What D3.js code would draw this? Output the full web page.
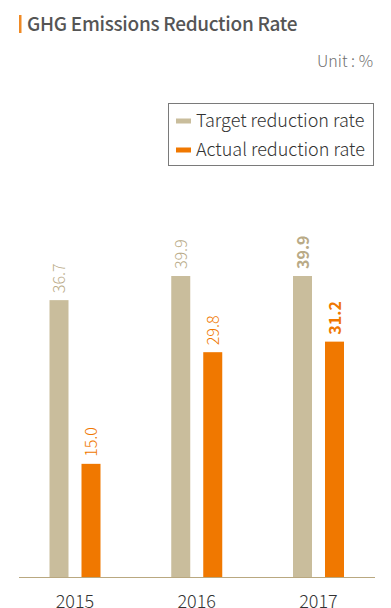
<!DOCTYPE html>
<html>
<head>
<meta charset="utf-8">
<script src="https://cdn.jsdelivr.net/npm/d3@7"></script>
<style>
  html, body { margin: 0; padding: 0; background: #fff; }
  svg { display: block; font-family: "Noto Sans CJK KR", "Noto Sans", sans-serif; }
</style>
</head>
<body>
<svg id="chart" width="391" height="608"></svg>
<script>
// GHG emissions reduction rate, target vs. actual, in percent
const years = ["2015", "2016", "2017"];
const targetRates = [36.7, 39.9, 39.9];
const actualRates = [15.0, 29.8, 31.2];
const seriesNames = ["Target reduction rate", "Actual reduction rate"];
const seriesColors = ["#c9bd9c", "#f07800"];
const labelColors = ["#b9aa86", "#f07800"];

const svg = d3.select("#chart");

// Title with accent bar
svg.append("rect").attr("x", 19).attr("y", 15).attr("width", 2.5).attr("height", 18)
  .attr("fill", "#f08a24");
svg.append("text").attr("x", 27).attr("y", 31)
  .attr("font-size", 19).attr("font-weight", 500).attr("fill", "#555")
  .attr("letter-spacing", -0.3)
  .text("GHG Emissions Reduction Rate");

svg.append("text").attr("x", 373).attr("y", 67).attr("text-anchor", "end")
  .attr("font-size", 16).attr("font-weight", 300).attr("fill", "#6f6f6f")
  .text("Unit : %");

// Legend
const legend = svg.append("g");
legend.append("rect").attr("x", 168.5).attr("y", 103.5).attr("width", 205).attr("height", 62)
  .attr("fill", "#fff").attr("stroke", "#7a7a7a").attr("stroke-width", 1);
seriesNames.forEach((name, i) => {
  const cy = 121 + i * 29;
  legend.append("rect").attr("x", 176).attr("y", cy - 2.5).attr("width", 15).attr("height", 5)
    .attr("fill", seriesColors[i]);
  legend.append("text").attr("x", 196).attr("y", cy + 6)
    .attr("font-size", 18).attr("font-weight", 300).attr("fill", "#333")
    .text(name);
});

// Scales
const baseline = 577;
const x = d3.scaleBand().domain(years).range([14.125, 379.375]);
const xInner = d3.scaleBand().domain([0, 1]).range([-25.5, 25.5]).paddingInner(13 / 32).paddingOuter(0);
const y = d3.scaleLinear().domain([0, 39.9]).range([baseline, 276]);
const centre = d => x(d) + x.bandwidth() / 2;

const series = [targetRates, actualRates];

series.forEach((vals, s) => {
  const g = svg.append("g");
  const barW = xInner.bandwidth();
  g.selectAll("rect").data(years).join("rect")
    .attr("x", d => centre(d) + xInner(s))
    .attr("y", (d, i) => y(vals[i]))
    .attr("width", barW)
    .attr("height", (d, i) => baseline - y(vals[i]))
    .attr("fill", seriesColors[s]);
  g.selectAll("text").data(years).join("text")
    .attr("transform", (d, i) => {
      const cx = centre(d) + xInner(s) + barW / 2 + 6;
      const ty = y(vals[i]) - 7;
      return `translate(${cx},${ty}) rotate(-90)`;
    })
    .attr("font-size", 16)
    .attr("font-weight", (d, i) => i === 2 ? 700 : 300)
    .attr("fill", labelColors[s])
    .text((d, i) => vals[i].toFixed(1));
});

// Baseline axis
svg.append("line").attr("x1", 19).attr("x2", 375).attr("y1", baseline + 0.5).attr("y2", baseline + 0.5)
  .attr("stroke", "#b9a880").attr("stroke-width", 1.2);

svg.selectAll("text.year").data(years).join("text").attr("class", "year")
  .attr("x", d => centre(d)).attr("y", 608)
  .attr("text-anchor", "middle").attr("font-size", 18).attr("font-weight", 300).attr("fill", "#333")
  .text(d => d);
</script>
</body>
</html>
